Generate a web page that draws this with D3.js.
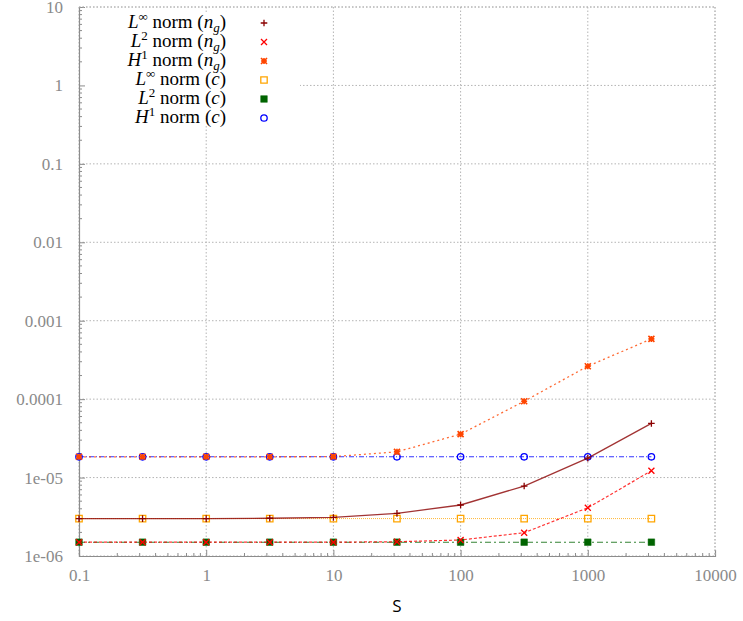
<!DOCTYPE html>
<html><head><meta charset="utf-8">
<script src="https://cdn.jsdelivr.net/npm/d3@7"></script>
<style>body{margin:0;background:#fff}svg{display:block}</style>
</head><body>
<svg id="chart" width="743" height="621"></svg>
<script>
const S = [0.1, 0.316, 1, 3.16, 10, 31.6, 100, 316, 1000, 3162];
const LinfNg = [3.0e-6, 3.0e-6, 3.0e-6, 3.03e-6, 3.1e-6, 3.5e-6, 4.47e-6, 7.8e-6, 1.77e-5, 4.9e-5];
const L2Ng   = [1.5e-6, 1.5e-6, 1.5e-6, 1.5e-6, 1.5e-6, 1.52e-6, 1.6e-6, 1.98e-6, 4.12e-6, 1.22e-5];
const H1Ng   = [1.84e-5, 1.84e-5, 1.84e-5, 1.84e-5, 1.85e-5, 2.13e-5, 3.58e-5, 9.4e-5, 2.63e-4, 5.86e-4];
const LinfC  = [3.0e-6, 3.0e-6, 3.0e-6, 3.0e-6, 3.0e-6, 3.0e-6, 3.0e-6, 3.0e-6, 3.0e-6, 3.0e-6];
const L2C    = [1.5e-6, 1.5e-6, 1.5e-6, 1.5e-6, 1.5e-6, 1.5e-6, 1.5e-6, 1.5e-6, 1.5e-6, 1.5e-6];
const H1C    = [1.84e-5, 1.84e-5, 1.84e-5, 1.84e-5, 1.84e-5, 1.84e-5, 1.84e-5, 1.84e-5, 1.84e-5, 1.84e-5];
const xTicks = [0.1, 1, 10, 100, 1000, 10000];
const xTickLabels = ["0.1", "1", "10", "100", "1000", "10000"];
const yTicks = [1e-6, 1e-5, 1e-4, 1e-3, 1e-2, 0.1, 1, 10];
const yTickLabels = ["1e-06", "1e-05", "0.0001", "0.001", "0.01", "0.1", "1", "10"];
const seriesNames = [
  {base:"L", sup:"∞", arg:"n", sub:"g"},
  {base:"L", sup:"2", arg:"n", sub:"g"},
  {base:"H", sup:"1", arg:"n", sub:"g"},
  {base:"L", sup:"∞", arg:"c", sub:""},
  {base:"L", sup:"2", arg:"c", sub:""},
  {base:"H", sup:"1", arg:"c", sub:""}
];
const seriesValues = [LinfNg, L2Ng, H1Ng, LinfC, L2C, H1C];
const seriesStyle = [
  {color:"#8b0000", dash:null, w:1.3, marker:"plus"},
  {color:"#ff0000", dash:"3,2", w:1.2, marker:"cross"},
  {color:"#ff4500", dash:"2,3", w:1.3, marker:"star"},
  {color:"#ffa500", dash:"1,1", w:1, marker:"square"},
  {color:"#006400", dash:"6,3,2,3", w:1.1, marker:"fsquare"},
  {color:"#0000ff", dash:"5,2,1,2", w:1.1, marker:"circle"}
];

const svg = d3.select("#chart");
const x = d3.scaleLog().domain([0.1, 10000]).range([79, 715]);
const y = d3.scaleLog().domain([1e-6, 10]).range([556, 7]);
const gridCol = "#b4b4b4", axCol = "#8c8c8c";
const serif = "'Liberation Serif','Times New Roman',serif";

// grid
const g = svg.append("g");
g.selectAll(".vg").data(xTicks).join("line")
  .attr("x1", d=>x(d)).attr("x2", d=>x(d)).attr("y1", 7).attr("y2", 556)
  .attr("stroke", gridCol).attr("stroke-dasharray", "1.5,2").attr("stroke-width", 1);
g.selectAll(".hg").data(yTicks).join("line")
  .attr("x1", 79).attr("x2", 715).attr("y1", d=>y(d)).attr("y2", d=>y(d))
  .attr("stroke", gridCol).attr("stroke-dasharray", "1.5,2").attr("stroke-width", 1);

// legend background (hides grid)
svg.append("rect").attr("x", 80).attr("y", 12).attr("width", 220).attr("height", 112).attr("fill", "#fff");

// axes
const xAxis = d3.axisBottom(x).tickValues(xTicks).tickFormat((d,i)=>xTickLabels[i]).tickSize(-6).tickPadding(13);
const xa = svg.append("g").attr("transform", "translate(0,556)").call(xAxis);
const yAxis = d3.axisLeft(y).tickValues(yTicks).tickFormat((d,i)=>yTickLabels[i]).tickSize(-6).tickPadding(16);
const ya = svg.append("g").attr("transform", "translate(79,0)").call(yAxis);
[xa, ya].forEach(a=>{
  a.select(".domain").attr("stroke", axCol).attr("stroke-width", 1.2);
  a.selectAll(".tick line").attr("stroke", axCol);
  a.selectAll("text").attr("fill", "#8a8a8a").attr("font-family", serif).attr("font-size", 17);
});
xa.selectAll("text").attr("dy", "0.71em");
// minor ticks
const minorX = [], minorY = [];
for (let e = -1; e < 4; e++) for (let m = 2; m < 10; m++) minorX.push(m * Math.pow(10, e));
for (let e = -6; e < 1; e++) for (let m = 2; m < 10; m++) minorY.push(m * Math.pow(10, e));
svg.append("g").selectAll("line").data(minorX).join("line")
  .attr("x1", d=>x(d)).attr("x2", d=>x(d)).attr("y1", 556).attr("y2", 553)
  .attr("stroke", axCol);
svg.append("g").selectAll("line").data(minorY).join("line")
  .attr("x1", 79).attr("x2", 82).attr("y1", d=>y(d)).attr("y2", d=>y(d))
  .attr("stroke", axCol);
// top/right border (dotted)
svg.append("line").attr("x1",79).attr("x2",715).attr("y1",7).attr("y2",7).attr("stroke",gridCol).attr("stroke-dasharray","1.5,2");
svg.append("line").attr("x1",715).attr("x2",715).attr("y1",7).attr("y2",556).attr("stroke",gridCol).attr("stroke-dasharray","1.5,2");

// marker paths
function markerPath(type, r) {
  switch(type) {
    case "plus": return `M${-r},0H${r}M0,${-r}V${r}`;
    case "cross": return `M${-r},${-r}L${r},${r}M${-r},${r}L${r},${-r}`;
    case "star": return `M${-r},0H${r}M0,${-r}V${r}M${-r},${-r}L${r},${r}M${-r},${r}L${r},${-r}`;
    case "square": case "fsquare": return `M${-r},${-r}H${r}V${r}H${-r}Z`;
    case "circle": return `M${r},0A${r},${r} 0 1,1 ${-r},0A${r},${r} 0 1,1 ${r},0Z`;
  }
}
function drawMarker(sel, st) {
  const r = {plus:3.3, cross:3, star:3, square:3.2, fsquare:3.3, circle:3.2}[st.marker];
  sel.attr("d", markerPath(st.marker, r))
    .attr("fill", st.marker === "fsquare" ? st.color : "none")
    .attr("stroke", st.color)
    .attr("stroke-width", st.marker === "fsquare" ? 0.5 : (st.marker==="star"?1.6:1.3));
}

// series
const line = d3.line().x(d=>x(d[0])).y(d=>y(d[1]));
const order = [4, 3, 5, 0, 1, 2];
order.forEach(i => {
  const st = seriesStyle[i];
  const pts = S.map((s, j)=>[s, seriesValues[i][j]]);
  svg.append("path").datum(pts).attr("d", line).attr("fill", "none")
    .attr("stroke", st.color).attr("stroke-width", st.w)
    .attr("stroke-dasharray", st.dash).attr("opacity", 0.8);
  svg.append("g").selectAll("path").data(pts).join("path")
    .attr("transform", d=>`translate(${x(d[0])},${y(d[1])})`)
    .call(drawMarker, st);
});

// legend
const leg = svg.append("g");
seriesNames.forEach((n, i) => {
  const yy = 23 + i * 19;
  const t = leg.append("text").attr("x", 226).attr("y", yy + 5).attr("text-anchor", "end")
    .attr("font-family", serif).attr("font-size", 19).attr("fill", "#000");
  t.append("tspan").attr("font-style", "italic").text(n.base);
  t.append("tspan").attr("font-size", 13).attr("dy", -7).text(n.sup);
  t.append("tspan").attr("dy", 7).text(" norm (");
  t.append("tspan").attr("font-style", "italic").text(n.arg);
  if (n.sub) {
    t.append("tspan").attr("font-style", "italic").attr("font-size", 13).attr("dy", 4).text(n.sub);
    t.append("tspan").attr("dy", -4).text(")");
  } else {
    t.append("tspan").text(")");
  }
  leg.append("path").attr("transform", `translate(264,${yy})`).call(drawMarker, seriesStyle[i]);
});

// x label
svg.append("text").attr("x", 397).attr("y", 612).attr("text-anchor", "middle")
  .attr("font-family", "'Open Sans','DejaVu Sans',sans-serif").attr("font-size", 17).attr("fill", "#000").text("S");
</script>
</body></html>
